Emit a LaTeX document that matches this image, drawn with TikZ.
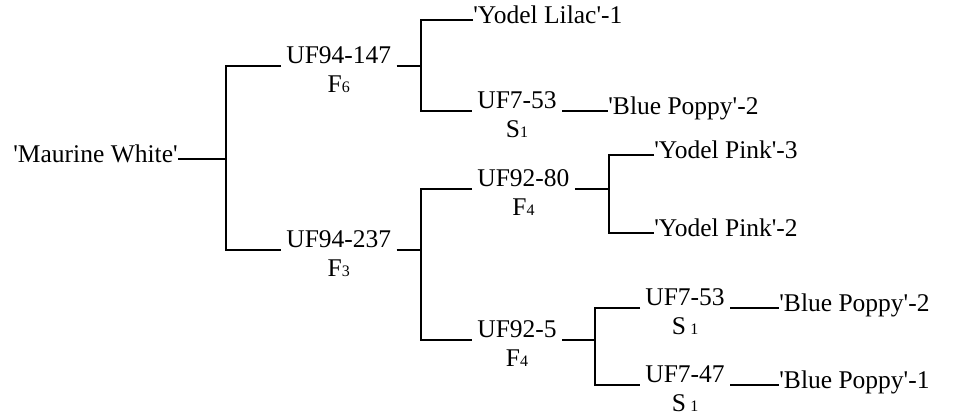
\documentclass[tikz,border=0pt]{standalone}
\usepackage{fontspec}
\setmainfont{Liberation Serif}[Ligatures=TeXOff]
\usepackage{tikz}
\usetikzlibrary{positioning, calc}
\newcommand{\gensub}[1]{{\fontsize{8}{9}\selectfont #1}}
\tikzstyle{cultivar} = [inner xsep=0pt, inner ysep=0pt, anchor=west, text height=7pt, text depth=3.5pt, font=\fontsize{12.75}{14.5}\selectfont]
\tikzstyle{seedling} = [inner xsep=2.5pt, inner ysep=0pt, anchor=west, text height=5pt, text depth=7.5pt, font=\fontsize{12.75}{14.5}\selectfont]
\tikzstyle{gen} = [inner sep=0pt, anchor=base, font=\fontsize{12.75}{14.5}\selectfont]
\tikzstyle{link} = [line width=1.2pt]

\begin{document}
\begin{tikzpicture}[x=0.5pt, y=-0.5pt]
    \useasboundingbox (0,0) rectangle (971,417);

    % Root
    \node[cultivar] (maurine) at (13,159) {'Maurine White'};
    \coordinate (j1) at (226,159);

    % First generation
    \node[seedling] (uf94a) at (281,66) {UF94-147};
    \node[gen] (f6) at ([yshift=-14.5pt]uf94a.base) {F\gensub{6}};
    \node[seedling] (uf94b) at (281,250) {UF94-237};
    \node[gen] (f3) at ([yshift=-14.5pt]uf94b.base) {F\gensub{3}};
    \coordinate (j2) at (421,66);
    \coordinate (j3) at (421,250);

    % Parents of UF94-147
    \node[cultivar] (lilac) at (473,20) {'Yodel Lilac'-1};
    \node[seedling] (uf753a) at (472,111) {UF7-53};
    \node[gen] (s1a) at ([yshift=-14.5pt]uf753a.base) {S\gensub{1}};
    \node[cultivar] (poppy2a) at (608,111) {'Blue Poppy'-2};

    % Parents of UF94-237
    \node[seedling] (uf9280) at (472,189) {UF92-80};
    \node[gen] (f4a) at ([yshift=-14.5pt]uf9280.base) {F\gensub{4}};
    \node[seedling] (uf925) at (472,340) {UF92-5};
    \node[gen] (f4b) at ([yshift=-14.5pt]uf925.base) {F\gensub{4}};
    \coordinate (j4) at (609,189);
    \coordinate (j5) at (595,340);

    % Parents of UF92-80
    \node[cultivar] (pink3) at (654,155) {'Yodel Pink'-3};
    \node[cultivar] (pink2) at (654,233) {'Yodel Pink'-2};

    % Parents of UF92-5
    \node[seedling] (uf753b) at (640,308) {UF7-53};
    \node[gen] (s1b) at ([yshift=-14.5pt]uf753b.base) {S\,\gensub{1}};
    \node[seedling] (uf747) at (640,385) {UF7-47};
    \node[gen] (s1c) at ([yshift=-14.5pt]uf747.base) {S\,\gensub{1}};
    \node[cultivar] (poppy2b) at (779,308) {'Blue Poppy'-2};
    \node[cultivar] (poppy1) at (779,385) {'Blue Poppy'-1};

    % Lines
    \draw[link] (maurine) -- (j1);
    \draw[link] (uf94a.west) -| (j1) |- (uf94b.west);
    \draw[link] (uf94a) -- (j2);
    \draw[link] (lilac.west) -| (j2) |- (uf753a.west);
    \draw[link] (uf753a) -- (poppy2a);
    \draw[link] (uf94b) -- (j3);
    \draw[link] (uf9280.west) -| (j3) |- (uf925.west);
    \draw[link] (uf9280) -- (j4);
    \draw[link] (pink3.west) -| (j4) |- (pink2.west);
    \draw[link] (uf925) -- (j5);
    \draw[link] (uf753b.west) -| (j5) |- (uf747.west);
    \draw[link] (uf753b) -- (poppy2b);
    \draw[link] (uf747) -- (poppy1);
\end{tikzpicture}
\end{document}
